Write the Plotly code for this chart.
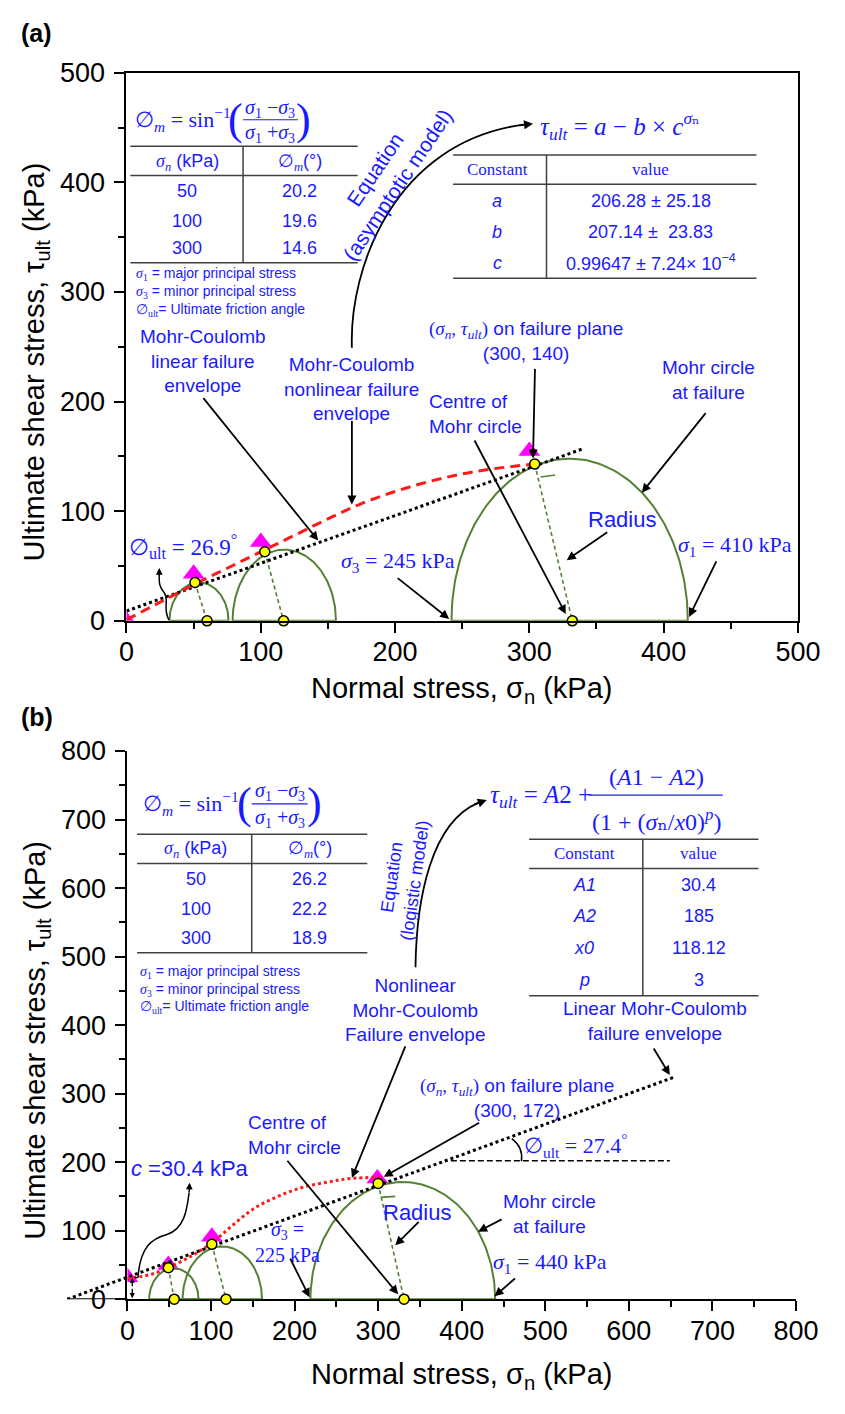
import numpy as np
import plotly.graph_objects as go

W, H = 845, 1414
BLUE = '#1a1aff'
GREEN = '#548235'
MAG = '#ff00ff'
SANS = 'Liberation Sans, Arial, sans-serif'
SERIF = 'Liberation Serif, DejaVu Serif, serif'

# ---------------- Panel (a) data ----------------
a_sigma3 = [32, 79, 242]
a_sigma1 = [76, 156, 418]
a_peak = [35, 65, 148]
a_centre = [60, 117, 332]
a_fail_x = [51, 103, 304]
a_fail_y = [35, 63, 143]
a_test_x = [0, 50, 100, 300]
a_test_y = [0, 43, 72, 155]
a_nonlin_x = [0, 25, 50, 75, 100, 125, 150, 175, 200, 225, 250, 275, 303]
a_nonlin_y = [1, 17, 33, 48, 63, 78, 93, 107, 118, 127, 134, 139, 143]
a_lin_x = [0, 340]
a_lin_y = [9, 157]

# ---------------- Panel (b) data ----------------
b_sigma3 = [26, 66, 219]
b_sigma1 = [85, 161, 440]
b_peak = [45, 77, 171]
b_centre = [56, 118, 331]
b_fail_x = [49, 101, 300]
b_fail_y = [46, 80, 169]
b_test_x = [0, 49, 101, 299]
b_test_y = [32, 50, 91, 176]
b_nonlin_x = [0, 28, 49, 75, 101, 125, 151, 180, 209, 240, 266, 304]
b_nonlin_y = [30, 36, 46, 62, 82, 107, 132, 150, 163, 171, 176, 178]
b_lin_x = [-72, 654]
b_lin_y = [0, 324]
b_axis_ext_x = [-72, 0]
b_axis_ext_y = [0, 0]
b_angle_ref_x = [387, 649]
b_angle_ref_y = [202, 202]

# tables
a_tab_sn = ['50', '100', '300']
a_tab_phi = ['20.2', '19.6', '14.6']
b_tab_sn = ['50', '100', '300']
b_tab_phi = ['26.2', '22.2', '18.9']
a_const = ['a', 'b', 'c']
a_const_val = ['206.28 ± 25.18', '207.14 ±  23.83', '0.99647 ± 7.24× 10<sup>−4</sup>']
b_const = ['A1', 'A2', 'x0', 'p']
b_const_val = ['30.4', '185', '118.12', '3']

fig = go.Figure()


def semi(s3, s1, h, n=120):
    t = np.linspace(0, np.pi, n)
    c = (s1 + s3) / 2.0
    r = (s1 - s3) / 2.0
    x = list(c + r * np.cos(t)) + [s1]
    y = list(h * np.sin(t)) + [0]
    return x, y


def add_panel(xa, ya, s3, s1, pk, cen, fx, fy, tx, ty, nx, ny, lx, ly, nl_dash, txa, tya):
    for i in range(len(s3)):
        x, y = semi(s3[i], s1[i], pk[i])
        fig.add_trace(go.Scatter(x=x, y=y, mode='lines', xaxis=xa, yaxis=ya,
                                 line=dict(color=GREEN, width=2), hoverinfo='skip'))
    for i in range(len(fx)):
        fig.add_trace(go.Scatter(x=[fx[i], cen[i]], y=[fy[i], 0], mode='lines', xaxis=xa, yaxis=ya,
                                 line=dict(color=GREEN, width=1.6, dash='4px,3px'), hoverinfo='skip'))
    fig.add_trace(go.Scatter(x=tx, y=ty, mode='markers', xaxis=txa, yaxis=tya,
                             marker=dict(symbol='triangle-up', size=19, color=MAG), hoverinfo='skip'))
    fig.add_trace(go.Scatter(x=lx, y=ly, mode='lines', xaxis=xa, yaxis=ya,
                             line=dict(color='black', width=3, dash='dot'), hoverinfo='skip'))
    fig.add_trace(go.Scatter(x=nx, y=ny, mode='lines', xaxis=xa, yaxis=ya, line_shape='spline',
                             line=dict(color='#ff1a1a', width=3, dash=nl_dash), hoverinfo='skip'))
    fig.add_trace(go.Scatter(x=list(fx) + list(cen), y=list(fy) + [0] * len(cen), mode='markers',
                             xaxis=xa, yaxis=ya, cliponaxis=False,
                             marker=dict(symbol='circle', size=10, color='#ffff00',
                                         line=dict(color='black', width=1.5)), hoverinfo='skip'))


add_panel('x', 'y', a_sigma3, a_sigma1, a_peak, a_centre, a_fail_x, a_fail_y,
          a_test_x, a_test_y, a_nonlin_x, a_nonlin_y, a_lin_x, a_lin_y, '10px,6px', 'x', 'y')

# panel (b) extension of axis line to the left
fig.add_trace(go.Scatter(x=b_axis_ext_x, y=b_axis_ext_y, mode='lines', xaxis='x3', yaxis='y3',
                         line=dict(color='black', width=2), hoverinfo='skip'))
add_panel('x3', 'y3', b_sigma3, b_sigma1, b_peak, b_centre, b_fail_x, b_fail_y,
          b_test_x, b_test_y, b_nonlin_x, b_nonlin_y, b_lin_x, b_lin_y, 'dot', 'x2', 'y2')
fig.add_trace(go.Scatter(x=b_angle_ref_x, y=b_angle_ref_y, mode='lines', xaxis='x3', yaxis='y3',
                         line=dict(color='black', width=1.5, dash='6px,3px'), hoverinfo='skip'))

# ---------------- axes ----------------
def ax_common(dt, mdt, standoff):
    return dict(showline=True, linewidth=2, linecolor='black', ticks='outside', ticklen=10,
                tickwidth=2, tickcolor='black', showgrid=False, zeroline=False, dtick=dt, tick0=0,
                ticklabelstandoff=standoff,
                tickfont=dict(size=27, color='black', family=SANS),
                minor=dict(ticks='outside', ticklen=6, tickwidth=1.5, tickcolor='black',
                           dtick=mdt, tick0=0, showgrid=False))

pxk_b = (818 - 124) / 800.0
ya_dom = [(H - 619) / H, (H - 59) / H]
yb_dom = [(H - 1312) / H, (H - 752) / H]

fig.update_layout(
    width=W, height=H, margin=dict(l=0, r=0, t=0, b=0),
    paper_bgcolor='white', plot_bgcolor='rgba(0,0,0,0)', showlegend=False,
    xaxis=dict(domain=[123 / W, 820 / W], range=[0, 500], anchor='y', mirror=True, **ax_common(100, 50, -4)),
    yaxis=dict(domain=ya_dom, range=[0, 500], anchor='x', mirror=True, **ax_common(100, 50, 4)),
    xaxis2=dict(domain=[124 / W, 818 / W], range=[0, 800], anchor='y2', **ax_common(100, 50, -4)),
    yaxis2=dict(domain=yb_dom, range=[0, 800], anchor='x2', **ax_common(100, 50, 4)),
    xaxis3=dict(domain=[(124 - 75 * pxk_b) / W, 818 / W], range=[-75, 800], anchor='y3', visible=False),
    yaxis3=dict(domain=yb_dom, range=[0, 800], anchor='x3', visible=False),
)

ANN = []
SHAPES = []


def X(x):
    return x / W


def Y(y):
    return 1 - y / H


def txt(x, y, s, size=19, color=BLUE, family=SANS, xanchor='center', yanchor='middle', angle=0, align='center'):
    ANN.append(dict(x=X(x), y=Y(y), xref='paper', yref='paper', text=s, showarrow=False,
                    font=dict(size=size, color=color, family=family), xanchor=xanchor,
                    yanchor=yanchor, textangle=angle, align=align))


def arrow(sx, sy, tx, ty, w=1.8, size=1.0):
    ANN.append(dict(x=X(tx), y=Y(ty), xref='paper', yref='paper', ax=sx - tx, ay=sy - ty,
                    text='', showarrow=True, arrowhead=2, arrowsize=size, arrowwidth=w,
                    arrowcolor='black', standoff=0))


def seg(x0, y0, x1, y1, color='#404040', w=1.5, dash='solid'):
    SHAPES.append(dict(type='line', xref='paper', yref='paper', x0=X(x0), y0=Y(y0), x1=X(x1), y1=Y(y1),
                       line=dict(color=color, width=w, dash=dash)))


def path(cmds, color='black', w=1.8):
    s = ''
    for c, pts in cmds:
        s += c + ' ' + ' '.join(f'{X(px):.5f},{Y(py):.5f}' for px, py in pts) + ' '
    SHAPES.append(dict(type='path', xref='paper', yref='paper', path=s.strip(),
                       line=dict(color=color, width=w)))


def ser(s):
    return f'<span style="font-family:Liberation Serif">{s}</span>'


# ---------------- common titles ----------------
txt(30, 18, '<b>(a)</b>', size=25, color='black')
txt(30, 717, '<b>(b)</b>', size=25, color='black')
ytitle = 'Ultimate shear stress, τ<sub>ult</sub> (kPa)'
xtitle = 'Normal stress, σ<sub>n</sub> (kPa)'
txt(30, 354, ytitle, size=29, color='black', angle=-90)
txt(30, 1047, ytitle, size=29, color='black', angle=-90)
txt(471, 690, xtitle, size=29, color='black')
txt(471, 1390, xtitle, size=29, color='black')


def phi_table(top, xl, xr, xdiv, xc1, xc2, rows_y, hdr_y, l1, bot, sn, ph, fx0, fy, formula_y, paren_l, paren_r,
              num_y, den_y, fx_c, bar_l, bar_r, foot_y):
    txt(fx0, formula_y, '∅<sub><i>m</i></sub> = sin<sup>−1</sup>', size=22, family=SERIF, xanchor='left')
    txt(paren_l, formula_y, '(', size=44, family=SERIF)
    txt(paren_r, formula_y, ')', size=44, family=SERIF)
    txt(fx_c, num_y, '<i>σ</i><sub>1</sub> −<i>σ</i><sub>3</sub>', size=20, family=SERIF)
    txt(fx_c, den_y, '<i>σ</i><sub>1</sub> +<i>σ</i><sub>3</sub>', size=20, family=SERIF)
    seg(bar_l, formula_y, bar_r, formula_y, color=BLUE, w=1.2)
    seg(xl, top, xr, top)
    seg(xl, l1, xr, l1)
    seg(xl, bot, xr, bot)
    seg(xdiv, top, xdiv, bot)
    txt(xc1, hdr_y, ser('<i>σ<sub>n</sub></i>') + ' (kPa)', size=18)
    txt(xc2, hdr_y, ser('∅<sub><i>m</i></sub>') + '(°)', size=18)
    for i in range(3):
        txt(xc1, rows_y[i], sn[i], size=18)
        txt(xc2, rows_y[i], ph[i], size=18)
    txt(fy, foot_y[0], ser('<i>σ</i><sub>1</sub>') + ' = major principal stress', size=14, xanchor='left')
    txt(fy, foot_y[1], ser('<i>σ</i><sub>3</sub>') + ' = minor principal stress', size=14, xanchor='left')
    txt(fy, foot_y[2], ser('∅<sub>ult</sub>') + '= Ultimate friction angle', size=14, xanchor='left')


# ---------------- panel (a) annotations ----------------
phi_table(134, 127, 363, 244, 186, 303, [180, 210, 238], 151, 164, 253, a_tab_sn, a_tab_phi,
          130, 131, 107, 236, 307, 96, 121, 272, 244, 301, [265, 283, 301])

txt(550, 113, '<i>τ<sub>ult</sub></i> = <i>a</i> − <i>b</i> × <i>c</i><sup><i>σ</i>ₙ</sup>', size=25,
    family=SERIF, xanchor='left')
seg(462, 143, 777, 143)
seg(462, 173, 777, 173)
seg(462, 269, 777, 269)
seg(559, 143, 559, 269)
txt(508, 158, 'Constant', size=17, family=SERIF)
txt(667, 158, 'value', size=17, family=SERIF)
for i, yy in enumerate([190, 222, 253]):
    txt(508, yy, '<i>' + a_const[i] + '</i>', size=18)
    txt(667, yy, a_const_val[i], size=18)

txt(393, 166, 'Equation<br>(asymptotic model)', size=21, angle=-56)
path([('M', [(357, 340)]), ('C', [(354, 260), (400, 130), (535, 112)])])
arrow(530, 113, 545, 111, size=1.0)

txt(202, 354, 'Mohr-Coulomb<br>linear failure<br>envelope', size=19)
arrow(206, 393, 322, 537)
txt(357, 382, 'Mohr-Coulomb<br>nonlinear failure<br>envelope', size=19)
arrow(357, 415, 357, 500)
txt(435, 408, 'Centre of<br>Mohr circle', size=19, xanchor='left', align='left')
arrow(487, 437, 579, 612)
txt(538, 333, ser('(<i>σ<sub>n</sub></i>, <i>τ<sub>ult</sub></i>)') + ' on failure plane<br>(300, 140)', size=19)
arrow(547, 362, 545, 453)
txt(727, 373, 'Mohr circle<br>at failure', size=19)
arrow(723, 407, 658, 488)
txt(637, 515, 'Radius', size=22)
arrow(622, 528, 580, 557)
txt(755, 543, '<i>σ</i><sub>1</sub> = 410 kPa', size=22, family=SERIF)
arrow(735, 558, 707, 615)
txt(405, 559, '<i>σ</i><sub>3</sub> = 245 kPa', size=22, family=SERIF)
arrow(405, 575, 458, 617)
txt(182, 543, '∅<sub>ult</sub> = 26.9<sup>°</sup>', size=23, family=SERIF)
path([('M', [(167, 618)]), ('C', [(160, 605), (168, 598), (162, 590)]), ('C', [(156, 583), (157, 578), (157, 572)])], w=1.5)
arrow(157, 574, 157, 565, w=1.5, size=0.9)
path([('M', [(553, 472)]), ('L', [(568, 470), (566, 457)])], color=GREEN, w=1.6)

# ---------------- panel (b) annotations ----------------
phi_table(837, 134, 373, 253, 195, 313, [883, 913, 943], 853, 867, 958, b_tab_sn, b_tab_phi,
          138, 135, 806, 245, 318, 793, 821, 282, 253, 311, [978, 996, 1013])

txt(498, 798, '<i>τ<sub>ult</sub></i> = <i>A</i>2 + ', size=25, family=SERIF, xanchor='left')
txt(673, 779, '(<i>A</i>1 − <i>A</i>2)', size=24, family=SERIF)
seg(603, 797, 742, 797, color=BLUE, w=1.2)
txt(673, 822, '(1 + (<i>σ</i>ₙ/<i>x</i>0)<sup><i>p</i></sup>)', size=24, family=SERIF)
seg(541, 842, 779, 842)
seg(541, 872, 779, 872)
seg(541, 1002, 779, 1002)
seg(659, 842, 659, 1002)
txt(598, 857, 'Constant', size=17, family=SERIF)
txt(717, 857, 'value', size=17, family=SERIF)
for i, yy in enumerate([889, 921, 953, 986]):
    txt(598, yy, '<i>' + b_const[i] + '</i>', size=18)
    txt(717, yy, b_const_val[i], size=18)
txt(672, 1028, 'Linear Mohr-Coulomb<br>failure envelope', size=19)
arrow(670, 1055, 687, 1083)

txt(410, 882, 'Equation<br>(logistic model)', size=18, angle=-82)
path([('M', [(423, 973)]), ('C', [(424, 900), (440, 825), (488, 805)])])
arrow(483, 807, 497, 802, size=1.0)

txt(422, 1017, 'Nonlinear<br>Mohr-Coulomb<br>Failure envelope', size=19)
arrow(411, 1055, 357, 1188)
txt(528, 1106, ser('(<i>σ<sub>n</sub></i>, <i>τ<sub>ult</sub></i>)') + ' on failure plane<br>(300, 172)', size=19)
arrow(487, 1132, 390, 1187)
txt(589, 1155, '∅<sub>ult</sub> = 27.4<sup>°</sup>', size=22, family=SERIF)
path([('M', [(523, 1148)]), ('Q', [(535, 1157), (533, 1171)])], w=1.5)
txt(247, 1144, 'Centre of<br>Mohr circle', size=19, xanchor='left', align='left')
arrow(293, 1172, 405, 1307)
txt(425, 1223, 'Radius', size=22)
arrow(427, 1232, 402, 1257)
txt(562, 1225, 'Mohr circle<br>at failure', size=19)
arrow(513, 1230, 488, 1243)
txt(563, 1275, '<i>σ</i><sub>1</sub> = 440 kPa', size=22, family=SERIF)
arrow(527, 1290, 505, 1309)
txt(290, 1254, '<i>σ</i><sub>3</sub> =<br>225 kPa', size=20, family=SERIF)
arrow(293, 1270, 313, 1310)
txt(189, 1178, '<i>c</i> =30.4 kPa', size=22)
path([('M', [(135, 1290)]), ('C', [(137, 1258), (150, 1250), (165, 1246)]), ('C', [(184, 1240), (186, 1218), (188, 1203)])], w=1.5)
arrow(188, 1204, 188.5, 1193, w=1.5, size=0.9)
arrow(129, 1300, 129, 1290, w=1.3, size=0.8)
arrow(129, 1300, 129, 1311, w=1.3, size=0.8)
path([('M', [(131, 1290)]), ('L', [(135, 1290), (135, 1302), (131, 1302)])], w=1.2)
path([('M', [(387, 1208)]), ('L', [(402, 1207), (400, 1195)])], color=GREEN, w=1.6)

fig.update_layout(annotations=ANN, shapes=SHAPES)
fig.write_html('out.html')
